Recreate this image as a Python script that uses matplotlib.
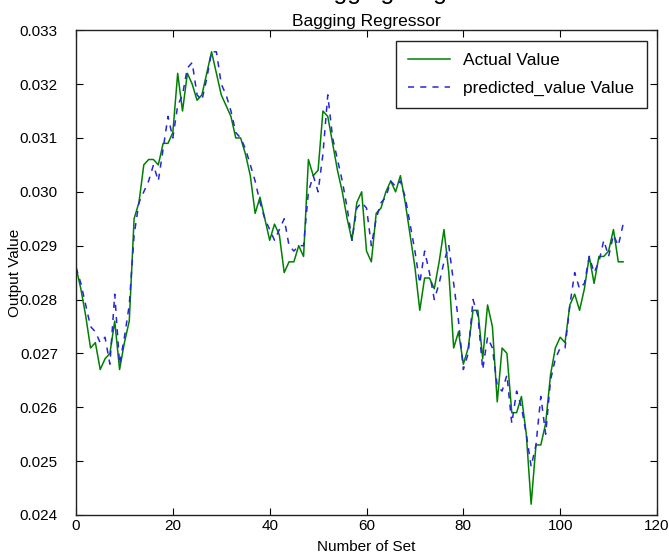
import numpy as np
import matplotlib
matplotlib.use('Agg')
import matplotlib.pyplot as plt

plt.rcParams['font.family'] = ['Liberation Sans', 'DejaVu Sans']

title = 'Bagging Regressor'
x_label = 'Number of Set'
y_label = 'Output Value'
series_names = ['Actual Value', 'predicted_value Value']

# values, one per set (0..113)
actual = [
    0.0286, 0.0282, 0.0277, 0.0271, 0.0272, 0.0267, 0.0269, 0.0270, 0.0276, 0.0267,
    0.0272, 0.0276, 0.0295, 0.0298, 0.0305, 0.0306, 0.0306, 0.0305, 0.0309, 0.0309,
    0.0311, 0.0322, 0.0315, 0.0322, 0.0320, 0.0317, 0.0318, 0.0322, 0.0326, 0.0322,
    0.0318, 0.0316, 0.0314, 0.0310, 0.0310, 0.0307, 0.0303, 0.0296, 0.0299, 0.0295,
    0.0291, 0.0294, 0.0292, 0.0285, 0.0287, 0.0287, 0.0290, 0.0288, 0.0306, 0.0303,
    0.0304, 0.0315, 0.0314, 0.0309, 0.0304, 0.0300, 0.0295, 0.0291, 0.0298, 0.0300,
    0.0289, 0.0287, 0.0296, 0.0297, 0.0300, 0.0302, 0.0300, 0.0303, 0.0298, 0.0292,
    0.0286, 0.0278, 0.0284, 0.0284, 0.0282, 0.0287, 0.0293, 0.0285, 0.0271, 0.0274,
    0.0268, 0.0271, 0.0278, 0.0278, 0.0269, 0.0279, 0.0275, 0.0261, 0.0271, 0.0270,
    0.0259, 0.0259, 0.0262, 0.0255, 0.0242, 0.0253, 0.0253, 0.0257, 0.0266, 0.0271,
    0.0273, 0.0272, 0.0279, 0.0281, 0.0278, 0.0282, 0.0288, 0.0283, 0.0288, 0.0288,
    0.0289, 0.0293, 0.0287, 0.0287,
]
predicted = [
    0.0286, 0.0283, 0.0279, 0.0275, 0.0274, 0.0272, 0.0273, 0.0268, 0.0281, 0.0268,
    0.0273, 0.0279, 0.0292, 0.0298, 0.0300, 0.0302, 0.0305, 0.0302, 0.0308, 0.0314,
    0.0310, 0.0316, 0.0318, 0.0323, 0.0324, 0.0318, 0.0317, 0.0321, 0.0326, 0.0326,
    0.0320, 0.0318, 0.0315, 0.0311, 0.0310, 0.0308, 0.0305, 0.0302, 0.0298, 0.0295,
    0.0293, 0.0291, 0.0293, 0.0295, 0.0290, 0.0289, 0.0290, 0.0290, 0.0300, 0.0303,
    0.0300, 0.0307, 0.0318, 0.0310, 0.0306, 0.0302, 0.0297, 0.0291, 0.0297, 0.0298,
    0.0297, 0.0290, 0.0295, 0.0298, 0.0299, 0.0302, 0.0301, 0.0302, 0.0299, 0.0294,
    0.0289, 0.0283, 0.0289, 0.0285, 0.0280, 0.0283, 0.0287, 0.0290, 0.0283, 0.0276,
    0.0267, 0.0270, 0.0280, 0.0277, 0.0267, 0.0273, 0.0271, 0.0264, 0.0263, 0.0266,
    0.0257, 0.0263, 0.0260, 0.0255, 0.0249, 0.0253, 0.0262, 0.0255, 0.0265, 0.0269,
    0.0271, 0.0271, 0.0279, 0.0285, 0.0282, 0.0283, 0.0288, 0.0285, 0.0287, 0.0291,
    0.0288, 0.0292, 0.0290, 0.0294,
]
x_ticks = [0, 20, 40, 60, 80, 100, 120]
y_ticks = [0.024, 0.025, 0.026, 0.027, 0.028, 0.029, 0.030, 0.031, 0.032, 0.033]

sets = np.arange(len(actual))

fig = plt.figure(figsize=(6.69, 5.6), dpi=100)
ax = fig.add_axes([0.1136, 0.0804, 0.8685, 0.8656])

ax.plot(sets, actual, color=(0, 0.5, 0), lw=1.1, label=series_names[0])
ax.plot(sets, predicted, color=(0.15, 0.15, 0.85), lw=1.1, ls='--',
        dashes=(4, 4), label=series_names[1])

ax.set_xlim(0, 120)
ax.set_ylim(0.024, 0.033)
ax.set_xticks(x_ticks)
ax.set_yticks(y_ticks)
ax.set_yticklabels(['%.3f' % v for v in y_ticks])
ax.tick_params(direction='in', length=5, width=0.8, labelsize=11,
               top=True, right=True)
ax.tick_params(axis='y', pad=13)
ax.tick_params(axis='x', pad=3)
for s in ax.spines.values():
    s.set_linewidth(1.0)
    s.set_color('#222222')

ax.set_title(title, fontsize=12.5, pad=3)
ax.set_xlabel(x_label, fontsize=11, labelpad=5)
ax.set_ylabel(y_label, fontsize=11)
ax.yaxis.set_label_coords(-0.093, 0.5)

leg = ax.legend(loc='upper right', fontsize=12.5, fancybox=False, framealpha=1,
                edgecolor='#222222', handlelength=2.4, borderaxespad=0.6,
                borderpad=0.7, labelspacing=0.75)
leg.get_frame().set_linewidth(1.0)

# larger heading cropped at the very top of the picture (only descenders show)
fig.text(0.613, 0.992, title, fontsize=18, ha='center', va='bottom')

fig.savefig('out.png', dpi=100)
